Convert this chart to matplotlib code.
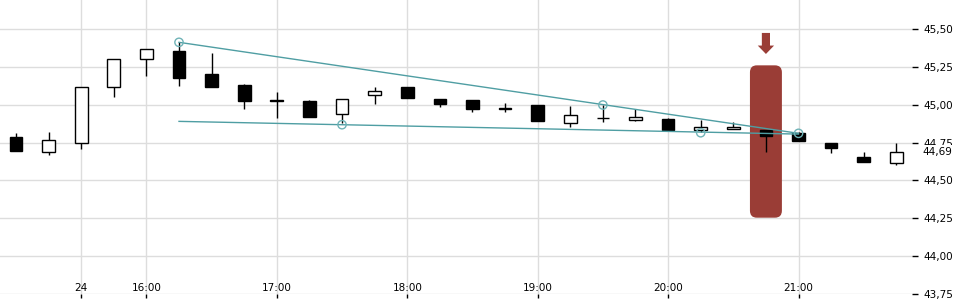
import matplotlib
matplotlib.use("Agg")
import matplotlib.pyplot as plt
from matplotlib.patches import Rectangle, FancyBboxPatch, Polygon

# ---- data ----
opens  = [44.785, 44.686, 44.745, 45.115, 45.300, 45.353, 45.203, 45.128, 45.030, 45.024,
          44.937, 45.062, 45.115, 45.036, 45.029, 44.976, 44.998, 44.877, 44.913, 44.897,
          44.904, 44.835, 44.838, 44.833, 44.813, 44.747, 44.655, 44.617]
highs  = [44.811, 44.820, 45.115, 45.300, 45.366, 45.412, 45.340, 45.137, 45.082, 45.029,
          45.036, 45.117, 45.115, 45.036, 45.029, 45.009, 44.998, 44.991, 44.998, 44.970,
          44.910, 44.899, 44.886, 44.833, 44.820, 44.747, 44.688, 44.745]
lows   = [44.696, 44.670, 44.709, 45.053, 45.192, 45.125, 45.119, 44.974, 44.914, 44.921,
          44.877, 45.003, 45.046, 44.987, 44.952, 44.952, 44.894, 44.855, 44.888, 44.890,
          44.835, 44.820, 44.838, 44.690, 44.762, 44.683, 44.624, 44.604]
closes = [44.696, 44.765, 45.115, 45.300, 45.366, 45.178, 45.119, 45.026, 45.022, 44.921,
          45.036, 45.088, 45.046, 45.007, 44.974, 44.972, 44.894, 44.930, 44.909, 44.917,
          44.835, 44.851, 44.853, 44.795, 44.762, 44.716, 44.624, 44.686]

xtick_pos = [2, 4, 8, 12, 16, 20, 24]
xtick_labels = ["24", "16:00", "17:00", "18:00", "19:00", "20:00", "21:00"]
ytick_vals = [43.75, 44.00, 44.25, 44.50, 44.75, 45.00, 45.25, 45.50]

# trend lines (index, price)
upper_line = ([5, 24], [45.412, 44.811])
lower_line = ([5, 24], [44.890, 44.806])
pivot_x = [5, 10, 18, 21, 24]
pivot_y = [45.412, 44.868, 44.998, 44.815, 44.811]

highlight_idx = 23
highlight_range = (44.254, 45.260)
arrow_range = (45.335, 45.474)   # tip, tail
last_price = 44.69

RED = "#9a3d36"
TEAL = "#4f9ea3"

# ---- figure ----
fig = plt.figure(figsize=(9.6, 3.0), dpi=100)
ax = fig.add_axes([0.0, 0.02, 0.95, 0.98])
ax.set_xlim(-0.49, 27.48)
ax.set_ylim(43.75, 45.6915)

for s in ax.spines.values():
    s.set_visible(False)

ax.set_yticks(ytick_vals)
ax.set_yticklabels([f"{v:.2f}".replace(".", ",") for v in ytick_vals])
ax.yaxis.tick_right()
ax.tick_params(axis="y", length=4, width=1, pad=4, labelsize=7.5, colors="black")
ax.set_xticks(xtick_pos)
ax.set_xticklabels(xtick_labels)
ax.tick_params(axis="x", length=3, width=1, pad=-11, labelsize=7.5, direction="out")
ax.grid(True, color="#dddddd", linewidth=1)
ax.set_axisbelow(True)

# highlight bar
hx = highlight_idx
rect = FancyBboxPatch((hx - 0.49, highlight_range[0]), 0.98, highlight_range[1] - highlight_range[0],
                      boxstyle="round,pad=0,rounding_size=0.21", mutation_aspect=0.22,
                      facecolor=RED, edgecolor="none", zorder=1)
ax.add_patch(rect)

# arrow above highlight (pointing down)
tip, tail = arrow_range
neck = tip + (tail - tip) * 0.40
sw, hw = 0.125, 0.25
arrow = Polygon([(hx - sw, tail), (hx + sw, tail), (hx + sw, neck), (hx + hw, neck),
                 (hx, tip), (hx - hw, neck), (hx - sw, neck)],
                closed=True, facecolor=RED, edgecolor="none", zorder=1)
ax.add_patch(arrow)

# candles
w = 0.39
for i, (o, h, l, c) in enumerate(zip(opens, highs, lows, closes)):
    ax.plot([i, i], [l, h], color="black", lw=1, zorder=3, solid_capstyle="butt")
    bottom = min(o, c)
    height = max(abs(c - o), 0.002)
    fc = "white" if c > o else "black"
    ax.add_patch(Rectangle((i - w / 2, bottom), w, height, facecolor=fc,
                           edgecolor="black", lw=1, zorder=4))

# trend lines
ax.plot(*upper_line, color=TEAL, lw=1, zorder=5)
ax.plot(*lower_line, color=TEAL, lw=1, zorder=5)
ax.scatter(pivot_x, pivot_y, s=36, facecolors="none", edgecolors="#6fb3b7", linewidths=1, zorder=6)

# last price label
ax.text(1.0 + 10 / 912, last_price, f"{last_price:.2f}".replace(".", ","),
        transform=ax.get_yaxis_transform(), fontsize=7.5, va="center", ha="left",
        bbox=dict(facecolor="white", edgecolor="none", pad=1.0), zorder=10, clip_on=False)

fig.savefig("out.png", dpi=100)
